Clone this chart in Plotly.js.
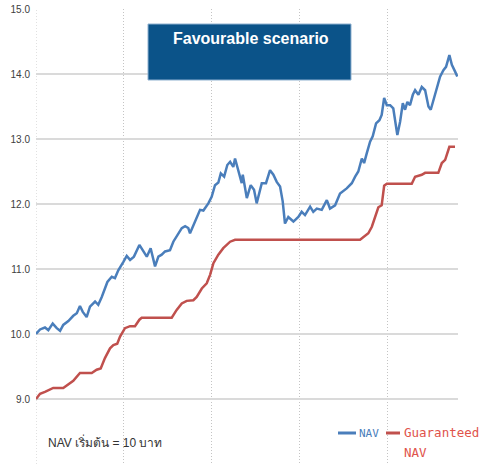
<!DOCTYPE html>
<html>
<head>
<meta charset="utf-8">
<script src="https://cdn.plot.ly/plotly-3.0.1.min.js"></script>
<style>html,body{margin:0;padding:0;background:#fff;}#chart{width:479px;height:465px;}</style>
</head>
<body>
<div id="chart"></div>
<script>
// NAV (favourable scenario)
const navX = [0,2.3,5.1,7.0,9.5,11.8,13.7,15.5,18.4,21.2,23.2,25.0,26.6,28.8,30.7,33.6,35.4,37.4,40.6,43.1,44.9,46.8,49.7,51.6,53.5,55.7,58.8,61.0,63.0,65.2,67.7,69.6,71.5,73.4,76.2,78.1,80.9,82.9,84.8,86.6,87.6,89.5,91.4,93.3,95.2,98.0,99.9,101.8,103.7,105.1,107.0,108.8,110.4,112.2,113.2,115.1,117.0,117.6,119.9,122.1,124.0,125.5,128.4,130.8,133.1,135.0,136.9,138.8,140.3,141.6,143.5,146.4,149.2,151.1,153.0,155.9,157.7,159.7,162.5,165.4,167.2,170.1,172.9,176.7,179.6,181.5,183.3,185.3,186.6,188.1,190.0,191.5,193.4,195.3,196.6,198.0,199.5,201.4,203.2,205.5,207.1,208.6,209.9,211.2,212.7,214.3,215.6,217.5,219.4,221.3,223.2,224.5,226.0,227.9,229.8,231.7,233.2,235.1,236.5,238.3,239.6];
const navY = [10.00,10.07,10.10,10.06,10.16,10.09,10.05,10.14,10.20,10.28,10.32,10.43,10.34,10.26,10.42,10.50,10.45,10.57,10.80,10.88,10.86,10.98,11.11,11.20,11.14,11.19,11.37,11.27,11.19,11.32,11.04,11.19,11.22,11.27,11.29,11.42,11.55,11.63,11.66,11.63,11.55,11.68,11.78,11.91,11.90,12.01,12.11,12.29,12.33,12.47,12.42,12.60,12.65,12.57,12.70,12.50,12.32,12.45,12.09,12.29,12.22,12.01,12.32,12.32,12.52,12.45,12.34,12.27,12.04,11.70,11.80,11.73,11.80,11.88,11.83,11.96,11.88,11.93,11.91,12.06,11.93,11.98,12.16,12.24,12.32,12.42,12.50,12.70,12.63,12.78,12.96,13.04,13.24,13.29,13.37,13.63,13.52,13.52,13.47,13.06,13.27,13.55,13.45,13.57,13.52,13.68,13.75,13.68,13.80,13.75,13.50,13.45,13.60,13.75,13.96,14.06,14.11,14.29,14.14,14.04,13.96];

// Guaranteed NAV
const guarX = [0,2.3,5.1,9.8,15.5,18.4,21.2,25.0,31.7,34.5,36.8,39.2,42.1,44.0,46.2,47.8,50.6,53.5,56.3,58.8,60.1,77.2,80.0,82.9,85.7,89.5,91.4,94.3,97.1,99.0,100.9,103.7,106.5,110.4,113.2,184.3,186.2,189.0,191.0,192.8,194.7,196.6,198.0,199.5,213.7,215.6,219.4,221.3,228.8,230.8,232.7,235.1,238.3];
const guarY = [9.00,9.08,9.11,9.17,9.17,9.22,9.28,9.40,9.40,9.45,9.47,9.63,9.78,9.83,9.85,9.96,10.09,10.12,10.12,10.22,10.25,10.25,10.37,10.47,10.51,10.52,10.57,10.70,10.78,10.91,11.09,11.22,11.32,11.42,11.45,11.45,11.49,11.55,11.65,11.80,11.95,11.98,12.28,12.31,12.31,12.42,12.45,12.48,12.48,12.63,12.68,12.88,12.88];

const yTicks = [8,9,10,11,12,13,14,15];
const seriesNames = ["NAV", "Guaranteed NAV"];
const titleText = "Favourable scenario";
const noteText = "NAV เริ่มต้น = 10 บาท";

const blue = "#4a7ebb";
const red = "#c0504d";
const vGrid = "#c4c4c4";

const traces = [
  {x: navX, y: navY, mode: "lines", name: seriesNames[0], line: {color: blue, width: 2.5}, hoverinfo: "skip"},
  {x: guarX, y: guarY, mode: "lines", name: seriesNames[1], line: {color: red, width: 2.5}, hoverinfo: "skip"}
];

const layout = {
  width: 479, height: 465,
  margin: {l: 36, r: 21, t: 9, b: 1},
  paper_bgcolor: "#ffffff", plot_bgcolor: "#ffffff",
  showlegend: false,
  xaxis: {range: [0, 240], tick0: 0, dtick: 50, showgrid: true, gridcolor: vGrid, griddash: "1px,2px", gridwidth: 1,
          showticklabels: false, zeroline: false, showline: false, ticks: "", layer: "below traces"},
  yaxis: {range: [8, 15], tickvals: yTicks, tickformat: ".1f", showgrid: true, gridcolor: "#dadada", gridwidth: 1.5,
          zeroline: false, showline: false, ticks: "outside", ticklen: 3, tickcolor: "rgba(0,0,0,0)",
          tickfont: {family: "Liberation Sans, Arial, sans-serif", size: 10, color: "#404040"}},
  shapes: [
    {type: "line", xref: "x", yref: "paper", x0: 0, x1: 0, y0: 0, y1: 1, layer: "below",
     line: {color: vGrid, width: 1, dash: "1px,2px"}},
    {type: "rect", xref: "paper", yref: "paper", x0: (148-36)/422, x1: (351-36)/422, y0: (464-80)/455, y1: (464-24)/455,
     fillcolor: "#0b5389", line: {color: "#8fb1d0", width: 1}},
    {type: "line", xref: "paper", yref: "paper", x0: (338-36)/422, x1: (356-36)/422, y0: (464-433)/455, y1: (464-433)/455,
     line: {color: blue, width: 3}},
    {type: "line", xref: "paper", yref: "paper", x0: (386-36)/422, x1: (400-36)/422, y0: (464-433)/455, y1: (464-433)/455,
     line: {color: red, width: 3}}
  ],
  annotations: [
    {text: "<b>" + titleText + "</b>", xref: "paper", yref: "paper", x: (251-36)/422, y: (464-39)/455,
     xanchor: "center", yanchor: "middle", showarrow: false,
     font: {family: "Liberation Sans, Arial, sans-serif", size: 16, color: "#ffffff"}},
    {text: noteText, xref: "paper", yref: "paper", x: (46-36)/422, y: (464-442)/455, xanchor: "left", yanchor: "middle",
     showarrow: false, font: {family: "Liberation Sans, Noto Sans, DejaVu Sans, sans-serif", size: 12, color: "#333333"}},
    {text: seriesNames[0], xref: "paper", yref: "paper", x: (357-36)/422, y: (464-433)/455, xanchor: "left", yanchor: "middle",
     showarrow: false, font: {family: "DejaVu Sans Mono, monospace", size: 11, color: blue}},
    {text: "Guaranteed", xref: "paper", yref: "paper", x: (402-36)/422, y: (464-432)/455, xanchor: "left", yanchor: "middle",
     showarrow: false, font: {family: "DejaVu Sans Mono, monospace", size: 12.5, color: "#e0534b"}},
    {text: "NAV", xref: "paper", yref: "paper", x: (402-36)/422, y: (464-452)/455, xanchor: "left", yanchor: "middle",
     showarrow: false, font: {family: "DejaVu Sans Mono, monospace", size: 12.5, color: "#e0534b"}}
  ]
};

Plotly.newPlot("chart", traces, layout, {displayModeBar: false, staticPlot: true});
</script>
</body>
</html>
